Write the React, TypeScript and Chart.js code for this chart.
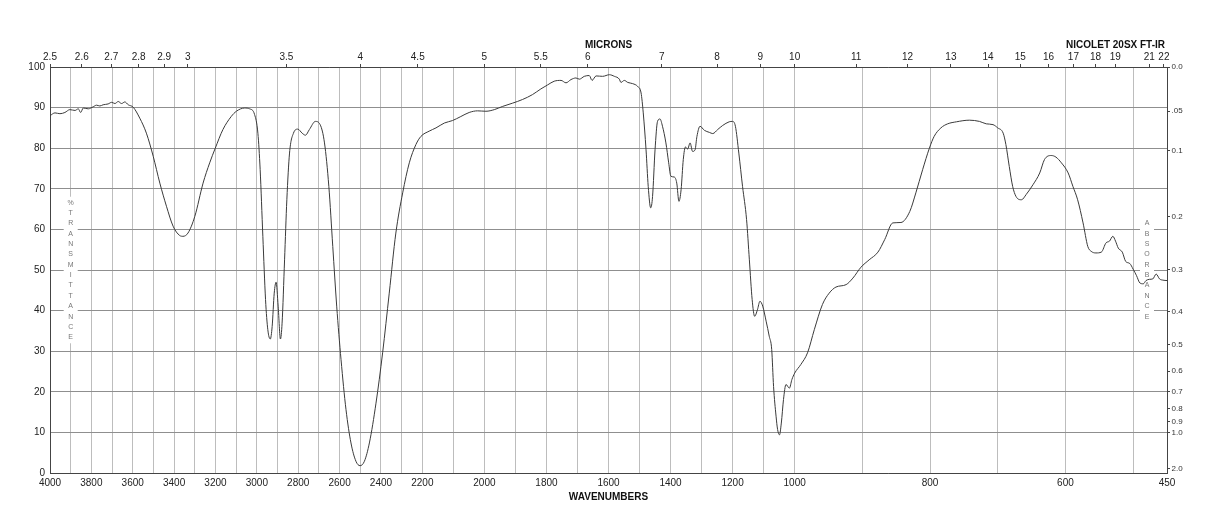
import React, { useEffect, useRef } from 'react';
import { Chart, registerables, LinearScale } from 'chart.js';

// ---------- data ----------
const WAVENUMBERS = [4000, 3976, 3952, 3928, 3904, 3879, 3863, 3852, 3839, 3815, 3791, 3775, 3759, 3743, 3719, 3702, 3686, 3670, 3654, 3638, 3622, 3598, 3566, 3534, 3501, 3469, 3437, 3405, 3373, 3357, 3333, 3300, 3260, 3228, 3201, 3164, 3124, 3099, 3059, 3035, 3011, 2995, 2984, 2971, 2958, 2947, 2935, 2926, 2916, 2907, 2897, 2886, 2878, 2866, 2855, 2842, 2823, 2802, 2781, 2765, 2746, 2717, 2694, 2673, 2652, 2633, 2614, 2593, 2569, 2545, 2521, 2501, 2480, 2456, 2424, 2392, 2360, 2328, 2295, 2263, 2231, 2207, 2178, 2156, 2129, 2103, 2076, 2049, 2022, 1995, 1968, 1941, 1909, 1877, 1845, 1818, 1796, 1775, 1753, 1737, 1721, 1705, 1694, 1678, 1662, 1653, 1640, 1619, 1597, 1581, 1565, 1560, 1549, 1538, 1522, 1506, 1495, 1488, 1479, 1472, 1464, 1458, 1450, 1442, 1434, 1426, 1415, 1406, 1399, 1388, 1380, 1373, 1366, 1359, 1352, 1345, 1337, 1329, 1321, 1315, 1305, 1291, 1275, 1264, 1248, 1232, 1211, 1200, 1191, 1180, 1168, 1155, 1146, 1137, 1129, 1120, 1112, 1103, 1092, 1082, 1074, 1068, 1060, 1055, 1049, 1043, 1036, 1028, 1017, 1009, 1000, 991, 981, 971, 959, 949, 939, 924, 914, 902, 890, 877, 867, 855, 843, 830, 821, 811, 801, 794, 784, 774, 761, 742, 727, 717, 707, 700, 692, 688, 683, 678, 673, 665, 658, 648, 638, 631, 621, 614, 606, 596, 589, 582, 574, 567, 562, 555, 547, 540, 535, 530, 526, 522, 516, 511, 505, 500, 495, 490, 485, 481, 476, 471, 466, 461, 456, 450];

const TRANSMITTANCE = [88.0, 88.7, 88.5, 88.8, 89.5, 89.3, 89.7, 88.8, 89.9, 89.7, 90.2, 90.6, 90.4, 90.7, 90.9, 91.3, 91.0, 91.5, 91.0, 91.4, 90.7, 90.1, 87.4, 83.7, 78.0, 71.4, 65.7, 60.8, 58.5, 58.3, 59.1, 63.2, 71.4, 76.4, 80.0, 84.6, 87.8, 89.1, 89.9, 89.7, 88.3, 83.7, 74.7, 58.3, 42.7, 35.3, 33.0, 36.1, 44.3, 47.0, 41.1, 33.0, 36.9, 52.5, 67.3, 78.8, 83.7, 84.7, 83.7, 83.2, 84.6, 86.6, 85.8, 81.3, 70.6, 55.8, 41.1, 27.9, 15.6, 7.4, 2.9, 1.8, 2.9, 7.4, 17.2, 29.6, 44.3, 59.1, 69.0, 76.4, 80.9, 82.9, 84.2, 85.0, 86.2, 86.8, 87.8, 88.8, 89.2, 89.1, 89.5, 90.3, 91.1, 92.0, 93.2, 94.6, 95.6, 96.5, 96.7, 96.1, 96.9, 97.3, 97.0, 97.7, 97.9, 96.7, 97.8, 97.7, 98.1, 97.7, 97.0, 96.2, 96.7, 96.2, 95.9, 95.2, 93.6, 88.7, 79.6, 70.6, 65.3, 68.1, 79.6, 86.6, 87.2, 85.4, 81.3, 76.4, 73.1, 72.9, 71.4, 66.9, 69.8, 77.2, 80.3, 79.8, 81.3, 79.2, 79.6, 82.9, 85.4, 84.4, 83.9, 83.6, 84.6, 85.6, 86.5, 86.6, 85.4, 78.8, 70.6, 62.4, 52.5, 42.7, 38.6, 40.2, 42.3, 41.1, 37.4, 33.7, 30.4, 21.3, 14.0, 10.7, 9.4, 12.3, 18.1, 21.8, 20.9, 23.0, 24.6, 26.7, 29.6, 35.3, 41.5, 44.3, 45.8, 46.4, 48.0, 50.7, 52.5, 54.4, 57.5, 61.6, 61.7, 64.4, 69.0, 74.7, 80.0, 82.9, 85.0, 86.0, 86.5, 86.9, 86.6, 86.0, 85.8, 85.0, 83.7, 80.9, 75.5, 70.6, 68.1, 67.3, 68.6, 71.0, 73.9, 77.2, 78.2, 77.8, 76.4, 73.9, 70.6, 67.3, 61.6, 55.8, 54.6, 54.2, 54.4, 56.7, 57.1, 58.3, 57.1, 55.4, 54.4, 52.1, 51.6, 50.2, 48.6, 46.8, 46.6, 47.4, 47.7, 47.8, 49.0, 47.8, 47.5, 47.4];

// x-axis grid (every 100 cm-1) and the labelled subset
const GRID_WAVENUMBERS = [4000, 3900, 3800, 3700, 3600, 3500, 3400, 3300, 3200, 3100, 3000, 2900, 2800, 2700, 2600, 2500, 2400, 2300, 2200, 2100, 2000, 1900, 1800, 1700, 1600, 1500, 1400, 1300, 1200, 1100, 1000, 900, 800, 700, 600, 500, 450];
const LABELED_WAVENUMBERS = [4000, 3800, 3600, 3400, 3200, 3000, 2800, 2600, 2400, 2200, 2000, 1800, 1600, 1400, 1200, 1000, 800, 600, 450];

// top axis (microns)
const MICRON_TICKS = [2.5, 2.6, 2.7, 2.8, 2.9, 3, 3.5, 4, 4.5, 5, 5.5, 6, 7, 8, 9, 10, 11, 12, 13, 14, 15, 16, 17, 18, 19, 21, 22];

// left axis (% transmittance)
const PERCENT_TICKS = [0, 10, 20, 30, 40, 50, 60, 70, 80, 90, 100];

// right axis (absorbance)
const ABSORBANCE_TICKS = [0, 0.05, 0.1, 0.2, 0.3, 0.4, 0.5, 0.6, 0.7, 0.8, 0.9, 1.0, 2.0];
const ABSORBANCE_LABELS = ['0.0', '.05', '0.1', '0.2', '0.3', '0.4', '0.5', '0.6', '0.7', '0.8', '0.9', '1.0', '2.0'];

// the wavenumber axis is split in three equal-width linear segments
const SCALE_BREAKS = [4000, 2200, 1000, 450];

const LEFT_TITLE = '%TRANSMITTANCE';
const RIGHT_TITLE = 'ABSORBANCE';
const INSTRUMENT = 'NICOLET 20SX FT-IR';

// ---------- piecewise wavenumber scale ----------
function wavenumberToFraction(v: number): number {
  const b = SCALE_BREAKS;
  const n = b.length - 1;
  for (let i = 0; i < n; i++) {
    const hi = b[i];
    const lo = b[i + 1];
    if (v >= lo || i === n - 1) return (i + (hi - v) / (hi - lo)) / n;
  }
  return 0;
}
function fractionToWavenumber(f: number): number {
  const b = SCALE_BREAKS;
  const n = b.length - 1;
  const s = f * n;
  const i = Math.max(0, Math.min(n - 1, Math.floor(s)));
  const t = s - i;
  return b[i] - t * (b[i] - b[i + 1]);
}

class WavenumberScale extends LinearScale {
  getPixelForValue(value: number) {
    if (value === null || value === undefined || isNaN(value)) return NaN;
    return (this as any).getPixelForDecimal(wavenumberToFraction(value));
  }
  getValueForPixel(pixel: number) {
    return fractionToWavenumber((this as any).getDecimalForPixel(pixel));
  }
}
(WavenumberScale as any).id = 'wavenumber';
(WavenumberScale as any).defaults = (LinearScale as any).defaults;

Chart.register(...registerables, WavenumberScale as any);

const FONT = 'Liberation Sans, Arial, Helvetica, sans-serif';
const AXIS_COLOR = '#444';

const labelsPlugin = {
  id: 'irLabels',
  beforeDatasetsDraw(chart: any) {
    const { ctx, chartArea } = chart;
    const midY = (chartArea.top + chartArea.bottom) / 2;
    const step = 10.35;
    const drawColumn = (text: string, x: number) => {
      const n = text.length;
      const h = (n - 1) * step;
      ctx.save();
      ctx.fillStyle = '#ffffff';
      ctx.fillRect(x - 7, midY - h / 2 - 6, 14, h + 12);
      ctx.fillStyle = '#777';
      ctx.font = `7px ${FONT}`;
      ctx.textAlign = 'center';
      ctx.textBaseline = 'middle';
      for (let i = 0; i < n; i++) ctx.fillText(text[i], x, midY - h / 2 + i * step);
      ctx.restore();
    };
    drawColumn(LEFT_TITLE, chartArea.left + 20.7);
    drawColumn(RIGHT_TITLE, chartArea.right - 20);
  },
  afterDraw(chart: any) {
    const { ctx, chartArea } = chart;
    ctx.save();
    ctx.fillStyle = '#111';
    ctx.font = `bold 10px ${FONT}`;
    ctx.textAlign = 'right';
    ctx.textBaseline = 'middle';
    ctx.fillText(INSTRUMENT, chartArea.right - 2, 37);
    ctx.restore();
  },
};

export default function App() {
  const ref = useRef<HTMLCanvasElement>(null);
  useEffect(() => {
    const canvas = ref.current;
    if (!canvas) return;
    Chart.defaults.font.family = FONT;
    const points = WAVENUMBERS.map((w, i) => ({ x: w, y: TRANSMITTANCE[i] }));
    const chart = new Chart(canvas, {
      type: 'line',
      data: {
        datasets: [
          {
            data: points,
            borderColor: '#3a3a3a',
            borderWidth: 1,
            pointRadius: 0,
            cubicInterpolationMode: 'monotone',
            fill: false,
          },
        ],
      },
      plugins: [labelsPlugin],
      options: {
        animation: false,
        responsive: false,
        devicePixelRatio: 1,
        layout: { padding: 0 },
        plugins: { legend: { display: false }, tooltip: { enabled: false }, title: { display: false } },
        scales: {
          x: {
            type: 'wavenumber' as any,
            position: 'bottom',
            min: 450,
            max: 4000,
            afterBuildTicks: (s: any) => { s.ticks = GRID_WAVENUMBERS.map((v) => ({ value: v })); },
            afterFit: (s: any) => { s.height = 47; },
            ticks: {
              autoSkip: false,
              maxRotation: 0,
              minRotation: 0,
              padding: 4,
              color: '#222',
              font: { size: 10 },
              callback: (v: any) => (LABELED_WAVENUMBERS.includes(Number(v)) ? String(v) : ''),
            },
            grid: { color: '#bdbdbd', drawTicks: false, lineWidth: 1 },
            border: { color: AXIS_COLOR, width: 1 },
            title: { display: true, text: 'WAVENUMBERS', color: '#111', font: { size: 10, weight: 'bold' }, padding: { top: 0, bottom: 17 } },
          },
          x2: {
            type: 'wavenumber' as any,
            position: 'top',
            min: 450,
            max: 4000,
            afterBuildTicks: (s: any) => { s.ticks = MICRON_TICKS.map((m) => ({ value: 10000 / m })); },
            afterFit: (s: any) => { s.height = 59; },
            ticks: {
              autoSkip: false,
              maxRotation: 0,
              minRotation: 0,
              padding: 1,
              color: '#222',
              font: { size: 10 },
              callback: (_v: any, i: number) => String(MICRON_TICKS[i]),
            },
            grid: { drawOnChartArea: false, drawTicks: true, tickLength: 3, color: AXIS_COLOR },
            border: { color: AXIS_COLOR, width: 1 },
            title: { display: true, text: 'MICRONS', color: '#111', font: { size: 10, weight: 'bold' }, padding: { top: 31, bottom: 0 } },
          },
          y: {
            type: 'linear',
            position: 'left',
            min: 0,
            max: 100,
            afterBuildTicks: (s: any) => { s.ticks = PERCENT_TICKS.map((v) => ({ value: v })); },
            afterFit: (s: any) => { s.width = 42; },
            ticks: { autoSkip: false, padding: 5, color: '#222', font: { size: 10 }, callback: (v: any) => String(v) },
            grid: { color: '#8f8f8f', drawTicks: false, lineWidth: 1 },
            border: { color: AXIS_COLOR, width: 1 },
          },
          y2: {
            type: 'linear',
            position: 'right',
            min: 0,
            max: 100,
            afterBuildTicks: (s: any) => { s.ticks = ABSORBANCE_TICKS.map((a) => ({ value: 100 * Math.pow(10, -a) })); },
            afterFit: (s: any) => { s.width = 43; },
            ticks: { autoSkip: false, padding: 1.5, color: '#333', font: { size: 8 }, callback: (_v: any, i: number) => ABSORBANCE_LABELS[i] },
            grid: { drawOnChartArea: false, drawTicks: true, tickLength: 3, color: AXIS_COLOR },
            border: { color: AXIS_COLOR, width: 1 },
          },
        },
      } as any,
    });
    return () => chart.destroy();
  }, []);
  return (
    <div style={{ width: 1202, height: 512 }}>
      <canvas ref={ref} width={1202} height={512} style={{ display: 'block', width: 1202, height: 512 }} />
    </div>
  );
}
